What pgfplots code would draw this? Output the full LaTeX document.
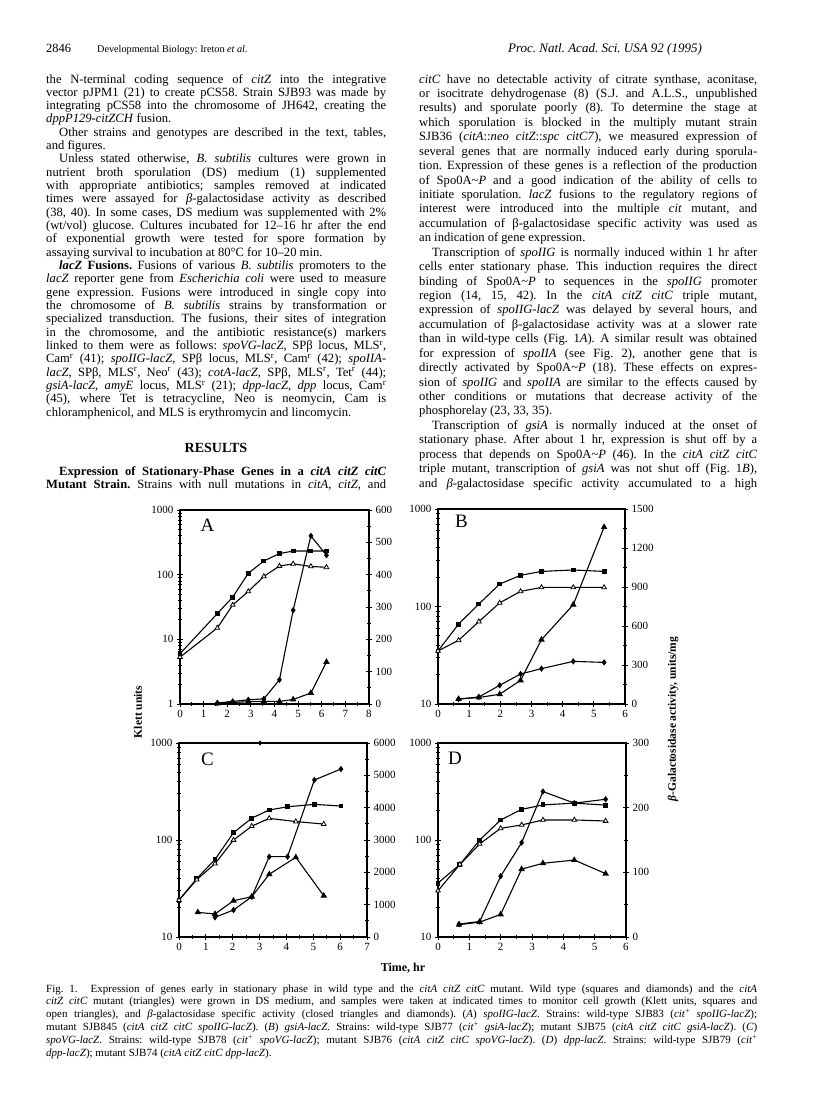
\documentclass[border=0pt]{standalone}
\usepackage{fontspec}
\setmainfont{Liberation Serif}
\usepackage{pgfplots}
\pgfplotsset{compat=1.18}

\newcommand\I[1]{\textit{#1}}
\newcommand\R{\textsuperscript{r}}
\newcommand\td{\textasciitilde}
\newlength\colw
\newcommand\jl[1]{\hbox to \colw{#1}}
\newcommand\el[1]{\hbox to \colw{#1\hfil}}
\newcommand\ind{\hspace*{13pt}}
\hbadness=10000 \hfuzz=60pt
\frenchspacing

\pgfplotsset{
  panelcommon/.style={scale only axis, anchor=south west, clip=false,
    axis line style={line width=1.1pt},
    tick style={line width=0.8pt, black},
    tick align=center, major tick length=6pt, minor tick length=3.5pt,
    tick label style={font=\fontsize{11}{11}\selectfont},
    /pgf/number format/assume math mode=true,
    /pgf/number format/1000 sep={}},
  logpanel/.style={panelcommon, xtick pos=bottom, ytick pos=left,
    xmin=0, xtick distance=1, minor x tick num=1},
  linpanel/.style={panelcommon, axis x line=none, axis y line*=right,
    xmin=0, minor y tick num=1},
  wtk/.style={black, line width=1.1pt, mark=square*, mark size=1.9pt},
  mtk/.style={black, line width=1.1pt, mark=triangle*, mark size=2.7pt,
    mark options={fill=white, line width=0.8pt}},
  wtb/.style={black, line width=1.1pt, mark=diamond*, mark size=2.3pt},
  mtb/.style={black, line width=1.1pt, mark=triangle*, mark size=2.7pt},
}

\begin{document}
\begin{tikzpicture}
\fill[white] (0pt,0pt) rectangle (816pt,-1112pt);
\path[use as bounding box] (0pt,0pt) rectangle (816pt,-1112pt);

% running head
\node[anchor=base west, inner sep=0pt, font=\fontsize{10.5}{10.5}\selectfont]
  at (46pt,-52pt) {\fontsize{12.5}{12.5}\selectfont 2846\hspace{26pt}\fontsize{10.2}{10.2}\selectfont Developmental Biology: Ireton \I{et al.}};
\node[anchor=base, inner sep=0pt, font=\fontsize{13}{13}\selectfont]
  at (605pt,-52pt) {\I{Proc. Natl. Acad. Sci. USA 92 (1995)}};

% left column
\node[anchor=base west, inner sep=0pt] at (46pt,-83pt) {\vtop{%
\fontsize{12.6}{13.33}\selectfont \colw=340pt \hsize=\colw
\baselineskip=13.33pt \lineskiplimit=-30pt \lineskip=0pt
\jl{the N-terminal coding sequence of \I{citZ} into the integrative}
\jl{vector pJPM1 (21) to create pCS58. Strain SJB93 was made by}
\jl{integrating pCS58 into the chromosome of JH642, creating the}
\el{\I{dppP129-citZCH} fusion.}
\jl{\ind Other strains and genotypes are described in the text, tables,}
\el{and figures.}
\jl{\ind Unless stated otherwise, \I{B. subtilis} cultures were grown in}
\jl{nutrient broth sporulation (DS) medium (1) supplemented}
\jl{with appropriate antibiotics; samples removed at indicated}
\jl{times were assayed for \I{β}-galactosidase activity as described}
\jl{(38, 40). In some cases, DS medium was supplemented with 2\%}
\jl{(wt/vol) glucose. Cultures incubated for 12--16 hr after the end}
\jl{of exponential growth were tested for spore formation by}
\el{assaying survival to incubation at 80°C for 10--20 min.}
\jl{\ind\textbf{\I{lacZ} Fusions.} Fusions of various \I{B. subtilis} promoters to the}
\jl{\I{lacZ} reporter gene from \I{Escherichia coli} were used to measure}
\jl{gene expression. Fusions were introduced in single copy into}
\jl{the chromosome of \I{B. subtilis} strains by transformation or}
\jl{specialized transduction. The fusions, their sites of integration}
\jl{in the chromosome, and the antibiotic resistance(s) markers}
\jl{linked to them were as follows: \I{spoVG-lacZ}, SPβ locus, MLS\R,}
\jl{Cam\R{} (41); \I{spoIIG-lacZ}, SPβ locus, MLS\R, Cam\R{} (42); \I{spoIIA-}}
\jl{\I{lacZ}, SPβ, MLS\R, Neo\R{} (43); \I{cotA-lacZ}, SPβ, MLS\R, Tet\R{} (44);}
\jl{\I{gsiA-lacZ, amyE} locus, MLS\R{} (21); \I{dpp-lacZ, dpp} locus, Cam\R}
\jl{(45), where Tet is tetracycline, Neo is neomycin, Cam is}
\el{chloramphenicol, and MLS is erythromycin and lincomycin.}
}};
\node[anchor=base, inner sep=0pt, font=\fontsize{14}{14}\selectfont\bfseries]
  at (216pt,-452pt) {RESULTS};
\node[anchor=base west, inner sep=0pt] at (46pt,-475pt) {\vtop{%
\fontsize{12.6}{13.33}\selectfont \colw=340pt \hsize=\colw
\baselineskip=13.1pt \lineskiplimit=-30pt \lineskip=0pt
\jl{\ind\textbf{Expression of Stationary-Phase Genes in a \I{citA citZ citC}}}
\jl{\textbf{Mutant Strain.} Strains with null mutations in \I{citA}, \I{citZ}, and}
}};

% right column
\node[anchor=base west, inner sep=0pt] at (419pt,-83pt) {\vtop{%
\fontsize{12.6}{14.43}\selectfont \colw=338pt \hsize=\colw
\baselineskip=14.43pt \lineskiplimit=-30pt \lineskip=0pt
\jl{\I{citC} have no detectable activity of citrate synthase, aconitase,}
\jl{or isocitrate dehydrogenase (8) (S.J. and A.L.S., unpublished}
\jl{results) and sporulate poorly (8). To determine the stage at}
\jl{which sporulation is blocked in the multiply mutant strain}
\jl{SJB36 (\I{citA}::\I{neo citZ}::\I{spc citC7}), we measured expression of}
\jl{several genes that are normally induced early during sporula-}
\jl{tion. Expression of these genes is a reflection of the production}
\jl{of Spo0A\td\I{P} and a good indication of the ability of cells to}
\jl{initiate sporulation. \I{lacZ} fusions to the regulatory regions of}
\jl{interest were introduced into the multiple \I{cit} mutant, and}
\jl{accumulation of β-galactosidase specific activity was used as}
\el{an indication of gene expression.}
\jl{\ind Transcription of \I{spoIIG} is normally induced within 1 hr after}
\jl{cells enter stationary phase. This induction requires the direct}
\jl{binding of Spo0A\td\I{P} to sequences in the \I{spoIIG} promoter}
\jl{region (14, 15, 42). In the \I{citA citZ citC} triple mutant,}
\jl{expression of \I{spoIIG-lacZ} was delayed by several hours, and}
\jl{accumulation of β-galactosidase activity was at a slower rate}
\jl{than in wild-type cells (Fig. 1\I{A}). A similar result was obtained}
\jl{for expression of \I{spoIIA} (see Fig. 2), another gene that is}
\jl{directly activated by Spo0A\td\I{P} (18). These effects on expres-}
\jl{sion of \I{spoIIG} and \I{spoIIA} are similar to the effects caused by}
\jl{other conditions or mutations that decrease activity of the}
\el{phosphorelay (23, 33, 35).}
\jl{\ind Transcription of \I{gsiA} is normally induced at the onset of}
\jl{stationary phase. After about 1 hr, expression is shut off by a}
\jl{process that depends on Spo0A\td\I{P} (46). In the \I{citA citZ citC}}
\jl{triple mutant, transcription of \I{gsiA} was not shut off (Fig. 1\I{B}),}
\jl{and \I{β}-galactosidase specific activity accumulated to a high}
}};

% ---------------- panel A ----------------
\begin{axis}[logpanel, ymode=log, at={(180pt,-704pt)}, width=189pt, height=194pt,
  xmax=8, ymin=1, ymax=1000, ytick={1,10,100,1000}, yticklabels={1,10,100,1000},
  minor ytick={2,3,...,9,20,30,...,90,200,300,...,900}]
\addplot[wtk] coordinates {(0,6.0) (1.58,25) (2.23,45) (2.89,105) (3.55,163) (4.21,212) (4.79,232) (5.54,232) (6.2,232)};
\addplot[mtk] coordinates {(0,5.3) (1.58,15) (2.23,34) (2.89,55) (3.55,94) (4.21,136) (4.79,147) (5.54,134) (6.2,130)};
\end{axis}
\begin{axis}[linpanel, at={(180pt,-704pt)}, width=189pt, height=194pt,
  xmax=8, ymin=0, ymax=600, ytick distance=100]
\addplot[wtb] coordinates {(1.58,3) (2.23,8) (2.89,13) (3.55,16) (4.21,75) (4.79,290) (5.54,520) (6.2,460)};
\addplot[mtb] coordinates {(1.58,2) (2.23,5) (2.89,7) (3.55,8) (4.21,8) (4.79,14) (5.54,34) (6.2,130)};
\end{axis}

% ---------------- panel B ----------------
\begin{axis}[logpanel, ymode=log, at={(438pt,-704pt)}, width=187pt, height=195pt,
  xmax=6, ymin=10, ymax=1000, ytick={10,100,1000}, yticklabels={10,100,1000},
  minor ytick={20,30,...,90,200,300,...,900}]
\addplot[wtk] coordinates {(0,35) (0.66,66) (1.31,106) (1.98,170) (2.65,209) (3.32,229) (4.34,237) (5.33,229)};
\addplot[mtk] coordinates {(0,35) (0.66,45) (1.31,70) (1.98,109) (2.65,143) (3.32,157) (4.34,157) (5.33,157)};
\end{axis}
\begin{axis}[linpanel, at={(438pt,-704pt)}, width=187pt, height=195pt,
  xmax=6, ymin=0, ymax=1500, ytick distance=300]
\addplot[wtb] coordinates {(0.66,38) (1.31,54) (1.98,144) (2.65,231) (3.32,272) (4.34,328) (5.33,320)};
\addplot[mtb] coordinates {(0.66,38) (1.31,50) (1.98,75) (2.65,182) (3.32,495) (4.34,764) (5.33,1361)};
\end{axis}

% ---------------- panel C ----------------
\begin{axis}[logpanel, ymode=log, at={(179pt,-937pt)}, width=188pt, height=194pt,
  xmax=7, ymin=10, ymax=1000, ytick={10,100,1000}, yticklabels={10,100,1000},
  minor ytick={20,30,...,90,200,300,...,900}]
\addplot[wtk] coordinates {(0,24) (0.66,40) (1.34,63) (2.03,119) (2.71,168) (3.36,204) (4.04,220) (5.04,233) (6.03,224)};
\addplot[mtk] coordinates {(0,24) (0.66,39) (1.34,57) (2.03,100) (2.71,139) (3.36,167) (4.35,155) (5.39,146)};
\end{axis}
\begin{axis}[linpanel, at={(179pt,-937pt)}, width=188pt, height=194pt,
  xmax=7, ymin=0, ymax=6000, ytick distance=1000]
\addplot[wtb] coordinates {(1.34,609) (2.03,835) (2.71,1247) (3.36,2484) (4.04,2484) (5.04,4856) (6.03,5196)};
\addplot[mtb] coordinates {(0.7,764) (1.34,711) (2.03,1123) (2.71,1247) (3.36,1939) (4.35,2465) (5.39,1277)};
\addplot[only marks, mark=diamond*, mark size=2.3pt] coordinates {(3.02,6000)};
\end{axis}

% ---------------- panel D ----------------
\begin{axis}[logpanel, ymode=log, at={(438pt,-937pt)}, width=188pt, height=194pt,
  xmax=6, ymin=10, ymax=1000, ytick={10,100,1000}, yticklabels={10,100,1000},
  minor ytick={20,30,...,90,200,300,...,900}]
\addplot[wtk] coordinates {(0,36) (0.7,56) (1.33,100) (2.0,161) (2.67,207) (3.35,230) (4.35,240) (5.35,229)};
\addplot[mtk] coordinates {(0,30) (0.7,56) (1.33,91) (2.0,132) (2.67,143) (3.35,161) (4.35,161) (5.35,157)};
\end{axis}
\begin{axis}[linpanel, at={(438pt,-937pt)}, width=188pt, height=194pt,
  xmax=6, ymin=0, ymax=300, ytick distance=100]
\addplot[wtb] coordinates {(0.67,20) (1.33,24) (2.0,94) (2.67,146) (3.35,225) (4.35,207) (5.35,213)};
\addplot[mtb] coordinates {(0.67,19) (1.33,23) (2.0,35) (2.67,105) (3.35,114) (4.35,119) (5.35,98)};
\end{axis}

% panel letters
\node[inner sep=0pt, font=\fontsize{19}{19}\selectfont] at (207.5pt,-525.5pt) {A};
\node[inner sep=0pt, font=\fontsize{19}{19}\selectfont] at (461.5pt,-521.5pt) {B};
\node[inner sep=0pt, font=\fontsize{19}{19}\selectfont] at (207.5pt,-759pt) {C};
\node[inner sep=0pt, font=\fontsize{19}{19}\selectfont] at (455pt,-758pt) {D};

% shared axis titles
\node[rotate=90, inner sep=0pt, font=\fontsize{11.5}{11.5}\selectfont\bfseries]
  at (138pt,-712pt) {Klett units};
\node[rotate=90, inner sep=0pt, font=\fontsize{11.5}{11.5}\selectfont\bfseries]
  at (673pt,-719pt) {\I{β}-Galactosidase activity, units/mg};
\node[inner sep=0pt, font=\fontsize{12}{12}\selectfont\bfseries]
  at (403pt,-968pt) {Time, hr};

% caption
\node[anchor=base west, inner sep=0pt] at (46pt,-992pt) {\vtop{%
\fontsize{11}{12.9}\selectfont \colw=711pt \hsize=\colw
\baselineskip=12.9pt \lineskiplimit=-30pt \lineskip=0pt
\jl{Fig.~1.\hspace{13pt}Expression of genes early in stationary phase in wild type and the \I{citA citZ citC} mutant. Wild type (squares and diamonds) and the \I{citA}}
\jl{\I{citZ citC} mutant (triangles) were grown in DS medium, and samples were taken at indicated times to monitor cell growth (Klett units, squares and}
\jl{open triangles), and \I{β}-galactosidase specific activity (closed triangles and diamonds). (\I{A}) \I{spoIIG-lacZ}. Strains: wild-type SJB83 (\I{cit}\textsuperscript{+} \I{spoIIG-lacZ});}
\jl{mutant SJB845 (\I{citA citZ citC spoIIG-lacZ}). (\I{B}) \I{gsiA-lacZ}. Strains: wild-type SJB77 (\I{cit}\textsuperscript{+} \I{gsiA-lacZ}); mutant SJB75 (\I{citA citZ citC gsiA-lacZ}). (\I{C})}
\jl{\I{spoVG-lacZ}. Strains: wild-type SJB78 (\I{cit}\textsuperscript{+} \I{spoVG-lacZ}); mutant SJB76 (\I{citA citZ citC spoVG-lacZ}). (\I{D}) \I{dpp-lacZ}. Strains: wild-type SJB79 (\I{cit}\textsuperscript{+}}
\el{\I{dpp-lacZ}); mutant SJB74 (\I{citA citZ citC dpp-lacZ}).}
}};
\end{tikzpicture}
\end{document}
